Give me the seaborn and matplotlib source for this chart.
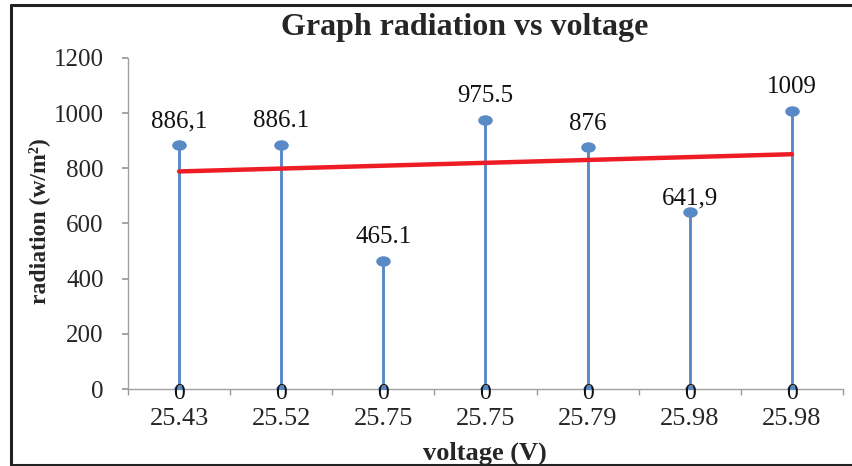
import numpy as np
import pandas as pd
import matplotlib
matplotlib.use("Agg")
import matplotlib.pyplot as plt
import seaborn as sns
from matplotlib.path import Path
from matplotlib.lines import Line2D

# ---- data ----
voltage_labels = ["25.43", "25.52", "25.75", "25.75", "25.79", "25.98", "25.98"]
radiation = [886.1, 886.1, 465.1, 975.5, 876, 641.9, 1009]
value_labels = ["886,1", "886.1", "465.1", "975.5", "876", "641,9", "1009"]
zero_series = [0, 0, 0, 0, 0, 0, 0]
y_ticks = [0, 200, 400, 600, 800, 1000, 1200]

sns.set_theme(style="white")
plt.rcParams["font.family"] = ["Liberation Serif", "DejaVu Serif"]

pos = np.arange(len(radiation))
df = pd.DataFrame({"pos": pos, "radiation": radiation, "zero": zero_series})

fig = plt.figure(figsize=(8.52, 4.66), dpi=100)
ax = fig.add_axes([128/852, 1-389/466, (843-128)/852, (389-58)/466])

blue = "#5a8ac6"
ax.vlines(df["pos"], 0, df["radiation"], color=blue, lw=2.1, zorder=2)

# elliptical marker
circ = Path.unit_circle()
ell = Path(circ.vertices * np.array([1.0, 0.72]), circ.codes)
sns.scatterplot(data=df, x="pos", y="radiation", marker=ell, s=110, color=blue,
                edgecolor=blue, linewidth=0, ax=ax, zorder=4)
sns.scatterplot(data=df, x="pos", y="zero", marker=ell, s=60, color=blue,
                edgecolor=blue, linewidth=0, ax=ax, zorder=4)

sns.regplot(data=df, x="pos", y="radiation", scatter=False, ci=None,
            color="#ee1c25", line_kws={"lw": 3.2, "zorder": 3}, ax=ax, truncate=True)

offsets = [9, 9, 9, 9, 9, 2, 9]
for p, v, lab, off in zip(pos, radiation, value_labels, offsets):
    ax.annotate(lab, (p, v), xytext=(0, off), textcoords="offset points",
                ha="center", va="bottom", fontsize=18, color="#111111", zorder=5)
for p, z in zip(pos, zero_series):
    ax.annotate(str(z), (p, z), xytext=(0, -7), textcoords="offset points",
                ha="center", va="baseline", fontsize=17, color="#111111", zorder=6)

ax.set_xlim(-0.5, len(radiation) - 0.5)
ax.set_ylim(0, 1200)
ax.set_yticks(y_ticks)
ax.set_yticklabels([str(t) for t in y_ticks], fontsize=18)
ax.set_xticks(pos)
ax.set_xticklabels(voltage_labels, fontsize=19)
ax.set_xticks(np.arange(-0.5, len(radiation) + 0.5, 1), minor=True)
ax.tick_params(axis="x", which="major", length=0, pad=14)
ax.tick_params(axis="x", which="minor", length=4.5, color="#999999", direction="out", bottom=True)
ax.tick_params(axis="y", length=4.5, color="#999999", direction="out", left=True, pad=13)
for s in ["top", "right"]:
    ax.spines[s].set_visible(False)
for s in ["left", "bottom"]:
    ax.spines[s].set_color("#a0a0a0")
    ax.spines[s].set_linewidth(1.0)
ax.set_xlabel("")
ax.set_ylabel("")
ax.grid(False)

fig.text(465/852, 1-28/466, "Graph radiation vs voltage", ha="center", va="center",
         fontsize=23, fontweight="bold")
fig.text(485/852, 1-453/466, "voltage (V)", ha="center", va="center",
         fontsize=19, fontweight="bold")
fig.text(39/852, 1-221/466, "radiation (w/m²)", ha="center", va="center",
         rotation=90, fontsize=17, fontweight="bold")

# outer frame
kw = dict(color="#222222", lw=2.2, transform=fig.transFigure)
fig.add_artist(Line2D([11/852, 11/852], [1-465/466, 1-5/466], **kw))
fig.add_artist(Line2D([11/852, 1.0], [1-5/466, 1-5/466], **kw))
fig.add_artist(Line2D([11/852, 1.0], [1-465/466, 1-465/466], **kw))

fig.savefig("out.png", dpi=100)
